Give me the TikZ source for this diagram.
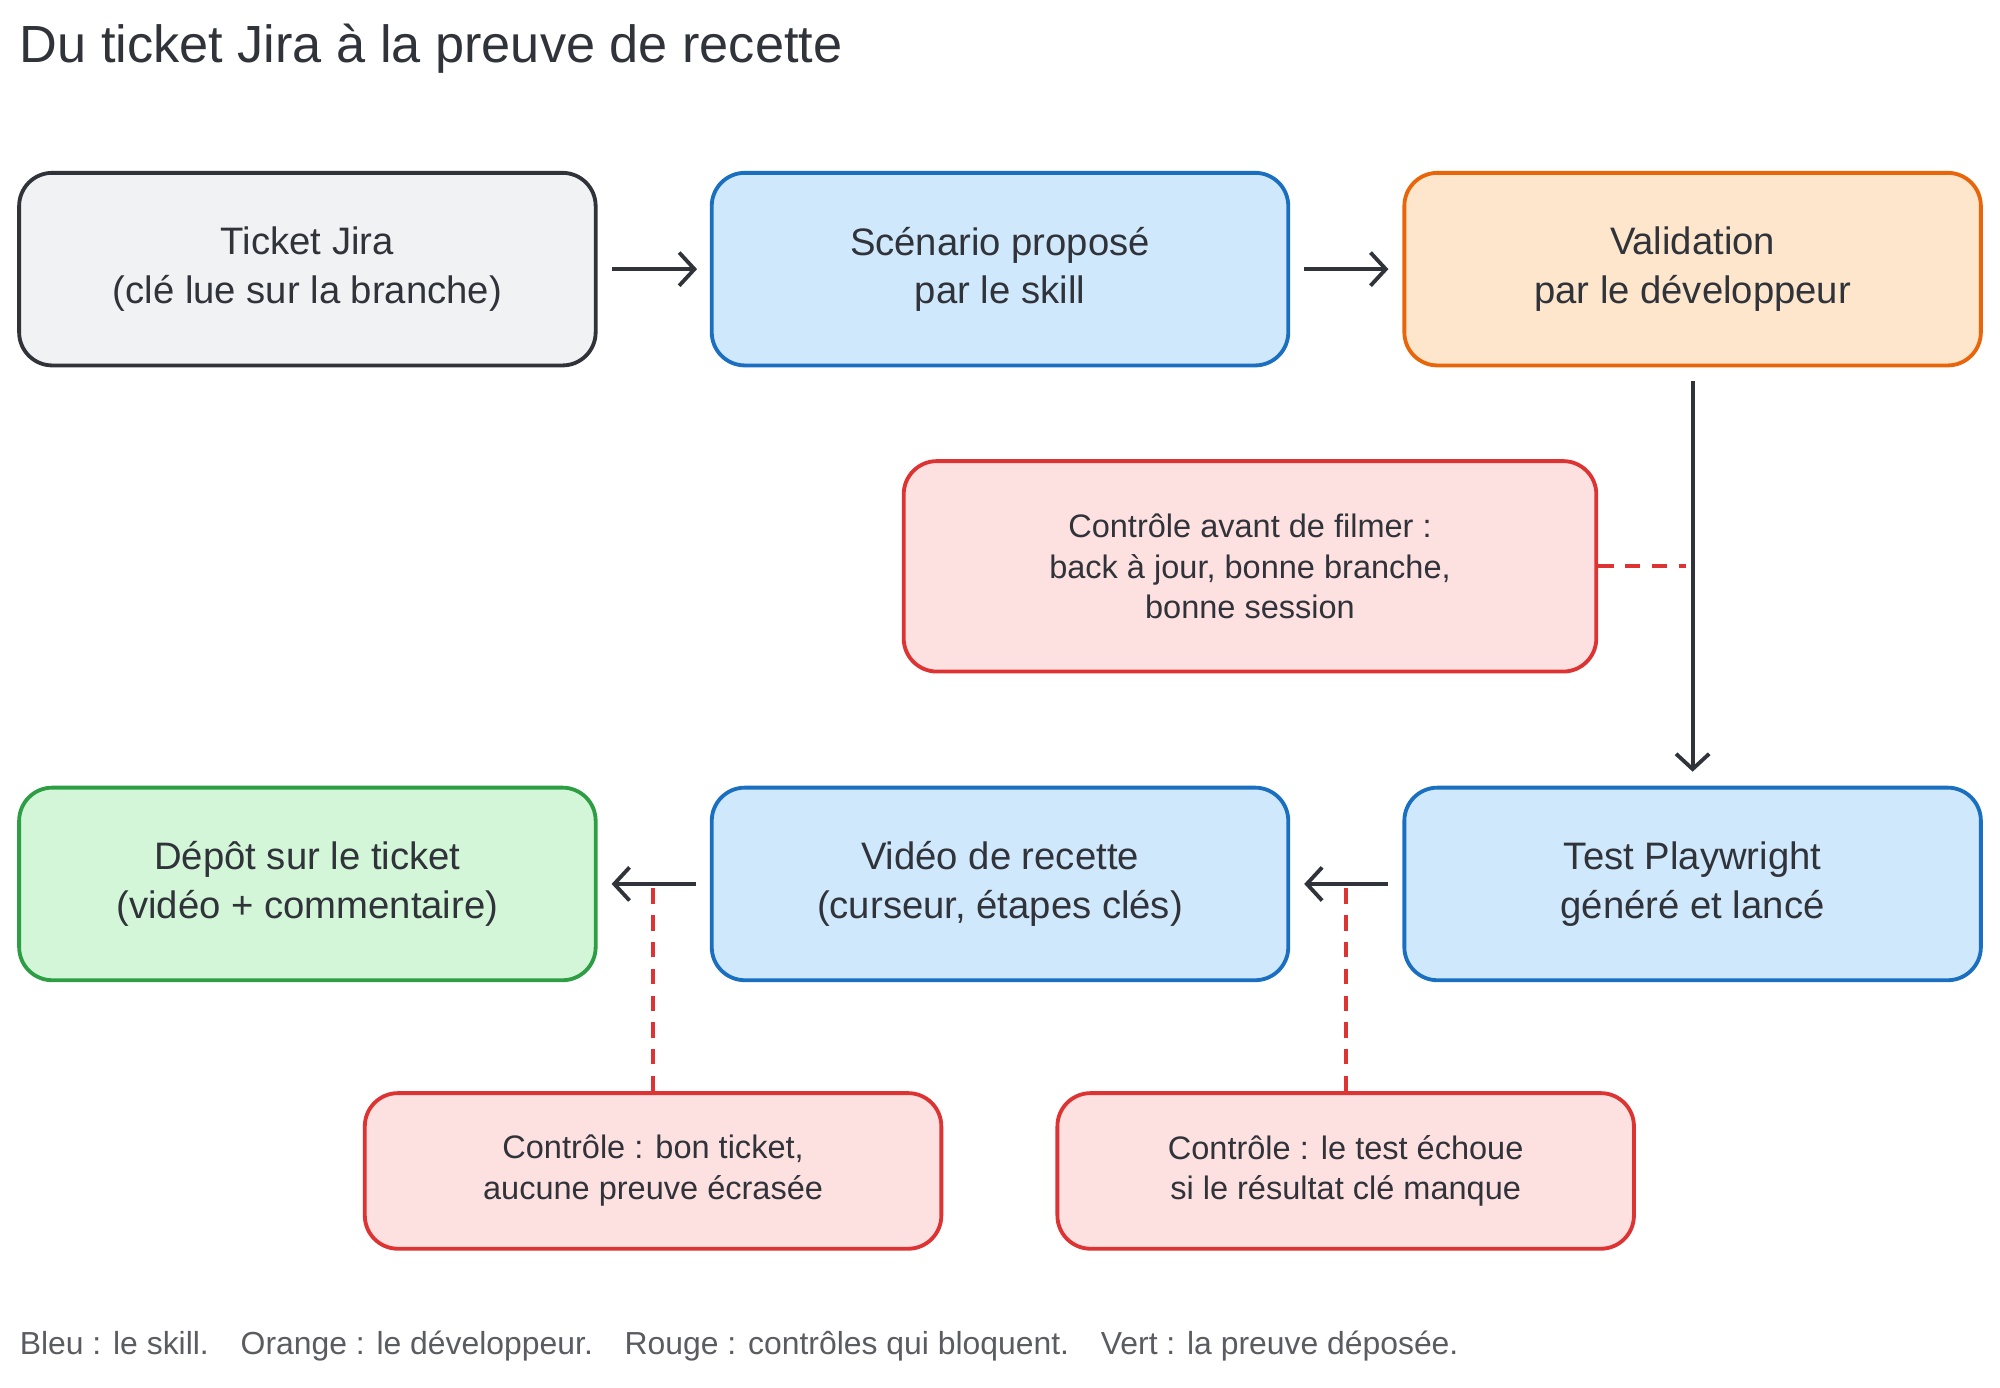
\documentclass[tikz,border=0pt]{standalone}
\usepackage{fontspec}
\setmainfont{Liberation Sans}
\usetikzlibrary{arrows.meta}
\definecolor{gfill}{HTML}{F1F2F4}\definecolor{gdraw}{HTML}{30333A}
\definecolor{bfill}{HTML}{D0E8FB}\definecolor{bdraw}{HTML}{1A6FC0}
\definecolor{ofill}{HTML}{FDE6CC}\definecolor{odraw}{HTML}{E8650A}
\definecolor{rfill}{HTML}{FDE0E0}\definecolor{rdraw}{HTML}{DD3333}
\definecolor{vfill}{HTML}{D3F6D8}\definecolor{vdraw}{HTML}{2E9E44}
\begin{document}
\begin{tikzpicture}[x=1pt,y=-1pt,
 box/.style={draw,line width=3pt,rounded corners=26pt,minimum width=452pt,minimum height=151pt,align=center,font=\fontsize{30}{38}\selectfont,text=gdraw},
 note/.style={box,font=\fontsize{25.5}{32}\selectfont},
 arr/.style={line width=3pt,draw=gdraw,-{Straight Barb[length=12pt,width=26pt,line width=3pt]}},
 redlink/.style={line width=3pt,draw=rdraw,dash pattern=on 12pt off 9pt}]
\useasboundingbox (0,0) rectangle (1568,1088);
\node[anchor=west,font=\fontsize{41}{46}\selectfont,text=gdraw] (title) at (12,38) {Du ticket Jira à la preuve de recette};
\node[box,fill=gfill,draw=gdraw] (jira) at (241,211) {Ticket Jira\\(clé lue sur la branche)};
\node[box,fill=bfill,draw=bdraw] (scen) at (784,211) {Scénario proposé\\par le skill};
\node[box,fill=ofill,draw=odraw] (valid) at (1327,211) {Validation\\par le développeur};
\node[note,fill=rfill,draw=rdraw,minimum width=543pt,minimum height=165pt] (avant) at (980,444) {Contrôle avant de filmer :\\back à jour, bonne branche,\\bonne session};
\node[box,fill=bfill,draw=bdraw] (test) at (1327,693) {Test Playwright\\généré et lancé};
\node[box,fill=bfill,draw=bdraw] (video) at (784,693) {Vidéo de recette\\(curseur, étapes clés)};
\node[box,fill=vfill,draw=vdraw] (depot) at (241,693) {Dépôt sur le ticket\\(vidéo + commentaire)};
\node[note,fill=rfill,draw=rdraw,minimum height=122pt] (c1) at (512,918) {Contrôle : bon ticket,\\aucune preuve écrasée};
\node[note,fill=rfill,draw=rdraw,minimum height=122pt] (c2) at (1055,918) {Contrôle : le test échoue\\si le résultat clé manque};
\node[anchor=west,font=\fontsize{25}{30}\selectfont,text=gdraw!80] (legend) at (12,1055) {Bleu : le skill.\quad Orange : le développeur.\quad Rouge : contrôles qui bloquent.\quad Vert : la preuve déposée.};
\draw[arr] ([xshift=11pt]jira.east) -- ([xshift=-10pt]scen.west);
\draw[arr] ([xshift=11pt]scen.east) -- ([xshift=-11pt]valid.west);
\draw[arr] ([yshift=-11pt]valid.south) -- ([yshift=11pt]test.north);
\draw[arr] ([xshift=-11pt]test.west) -- ([xshift=11pt]video.east);
\draw[arr] ([xshift=-11pt]video.west) -- ([xshift=11pt]depot.east);
\coordinate (m1) at (1322,444);
\coordinate (m2) at (512,693);
\coordinate (m3) at (1055,693);
\draw[redlink] (avant.east) -- (m1);
\draw[redlink] (c1.north) -- (m2);
\draw[redlink] (c2.north) -- (m3);
\end{tikzpicture}
\end{document}
